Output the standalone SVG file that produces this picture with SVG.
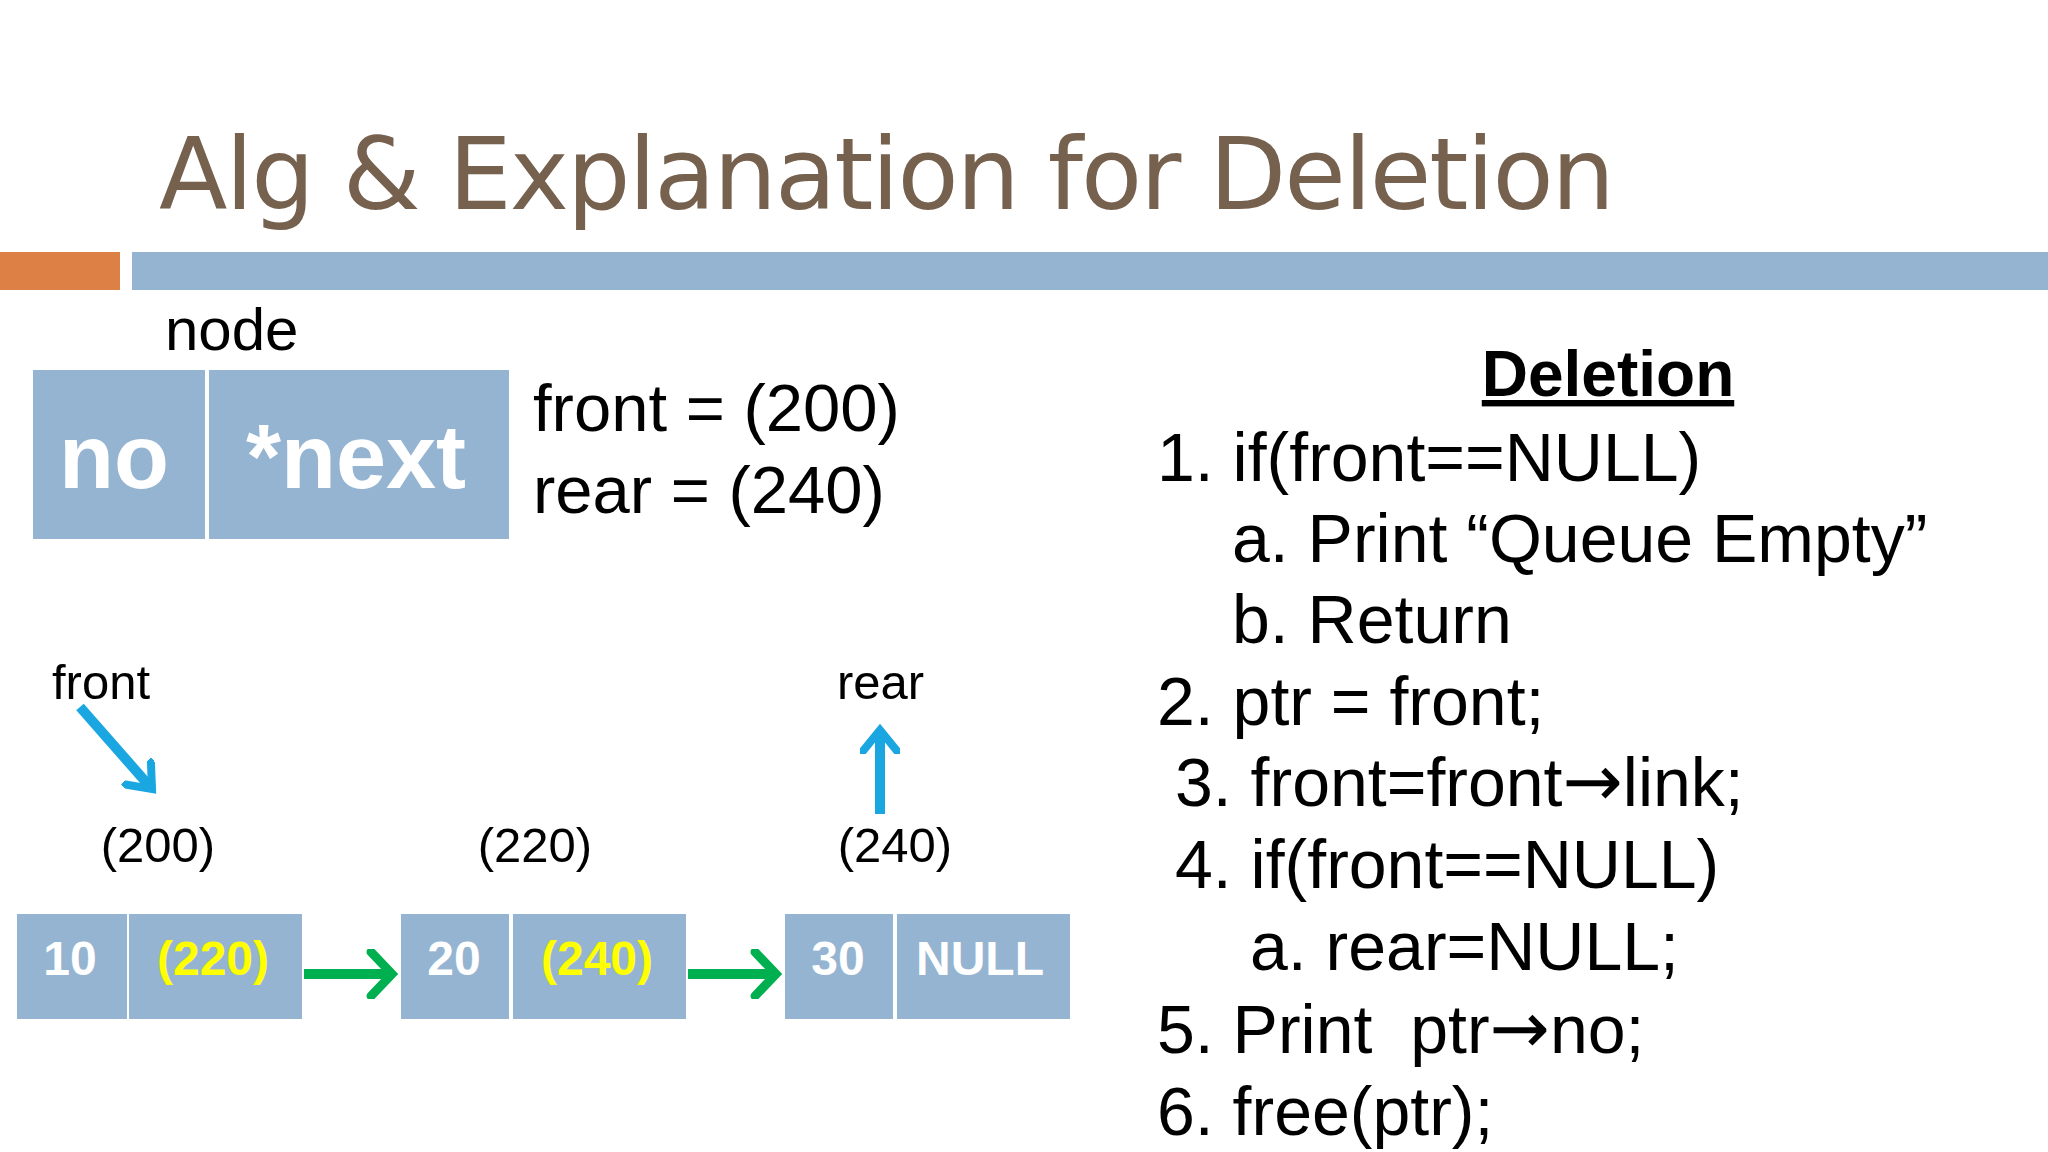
<svg xmlns="http://www.w3.org/2000/svg" width="2048" height="1152" viewBox="0 0 2048 1152">
<style>
.b{fill:#94b4d1}
.t{font-family:"Liberation Sans",Arial,sans-serif;fill:#000}
.w{font-family:"Liberation Sans",Arial,sans-serif;fill:#fff;font-weight:bold;text-anchor:middle}
.y{fill:#ffff00}
.l{font-size:68px}
.a{font-family:"DejaVu Sans",sans-serif;font-size:72px}
</style>
<defs>
<marker id="g" markerWidth="5" markerHeight="5" refX="2.4" refY="2.5" orient="auto" markerUnits="strokeWidth" viewBox="0 0 5 5"><path d="M0.5,0.3 L2.6,2.5 L0.5,4.7" fill="none" stroke="#00b050" stroke-width="0.9" stroke-linecap="round"/></marker>
<marker id="c" markerWidth="4" markerHeight="4" refX="2.4" refY="2" orient="auto" markerUnits="strokeWidth"><path d="M0.3,0.3 L2.4,2 L0.3,3.7" fill="none" stroke="#1aa6e0" stroke-width="0.8" stroke-linecap="round"/></marker>
</defs>
<rect width="2048" height="1152" fill="#fff"/>
<text x="159" y="209" font-family="'DejaVu Sans',sans-serif" font-size="100" fill="#76604e" textLength="1456">Alg &amp; Explanation for Deletion</text>
<rect x="0" y="252" width="120" height="38" fill="#dd8046"/>
<rect x="132" y="252" width="1916" height="38" fill="#94b4d1"/>
<g id="nodedef">
<text class="t" x="165" y="350" font-size="60">node</text>
<rect class="b" x="33" y="370" width="172" height="169"/>
<rect class="b" x="209" y="370" width="300" height="169"/>
<text class="w" x="114" y="488" font-size="90">no</text>
<text class="w" x="356" y="488" font-size="90">*next</text>
<text class="t" x="533" y="431" font-size="67">front = (200)</text>
<text class="t" x="533" y="513" font-size="67">rear = (240)</text>
</g>
<g id="alg" class="t">
<text x="1608" y="396" font-size="64" font-weight="bold" text-anchor="middle" text-decoration="underline">Deletion</text>
<text class="l" x="1157" y="481">1. if(front==NULL)</text>
<text class="l" x="1232" y="562">a. Print “Queue Empty”</text>
<text class="l" x="1232" y="643">b. Return</text>
<text class="l" x="1157" y="725">2. ptr = front;</text>
<text class="l" x="1175" y="806">3. front=front<tspan class="a">→</tspan>link;</text>
<text class="l" x="1175" y="888">4. if(front==NULL)</text>
<text class="l" x="1250" y="970">a. rear=NULL;</text>
<text class="l" x="1157" y="1053" xml:space="preserve">5. Print  ptr<tspan class="a">→</tspan>no;</text>
<text class="l" x="1157" y="1135">6. free(ptr);</text>
</g>
<g id="labels" class="t" font-size="49">
<text x="52" y="699">front</text>
<text x="837" y="699">rear</text>
<text x="158" y="862" text-anchor="middle">(200)</text>
<text x="535" y="862" text-anchor="middle">(220)</text>
<text x="895" y="862" text-anchor="middle">(240)</text>
</g>
<g id="n1">
<rect class="b" x="17" y="914" width="110" height="105"/><rect class="b" x="129" y="914" width="173" height="105"/>
<text class="w" x="70" y="975" font-size="48">10</text><text class="w y" x="213" y="975" font-size="48">(220)</text>
</g>
<g id="n2">
<rect class="b" x="401" y="914" width="108" height="105"/><rect class="b" x="513" y="914" width="173" height="105"/>
<text class="w" x="454" y="975" font-size="48">20</text><text class="w y" x="597" y="975" font-size="48">(240)</text>
</g>
<g id="n3">
<rect class="b" x="785" y="914" width="108" height="105"/><rect class="b" x="897" y="914" width="173" height="105"/>
<text class="w" x="838" y="975" font-size="48">30</text><text class="w" x="980" y="975" font-size="48">NULL</text>
</g>
<g id="connectors" stroke-width="10" fill="none">
<line x1="304" y1="974" x2="390" y2="974" stroke="#00b050" marker-end="url(#g)"/>
<line x1="688" y1="974" x2="774" y2="974" stroke="#00b050" marker-end="url(#g)"/>
<line x1="80" y1="707" x2="152" y2="789" stroke="#1aa6e0" marker-end="url(#c)"/>
<line x1="880" y1="814" x2="880" y2="730" stroke="#1aa6e0" marker-end="url(#c)"/>
</g>
</svg>
